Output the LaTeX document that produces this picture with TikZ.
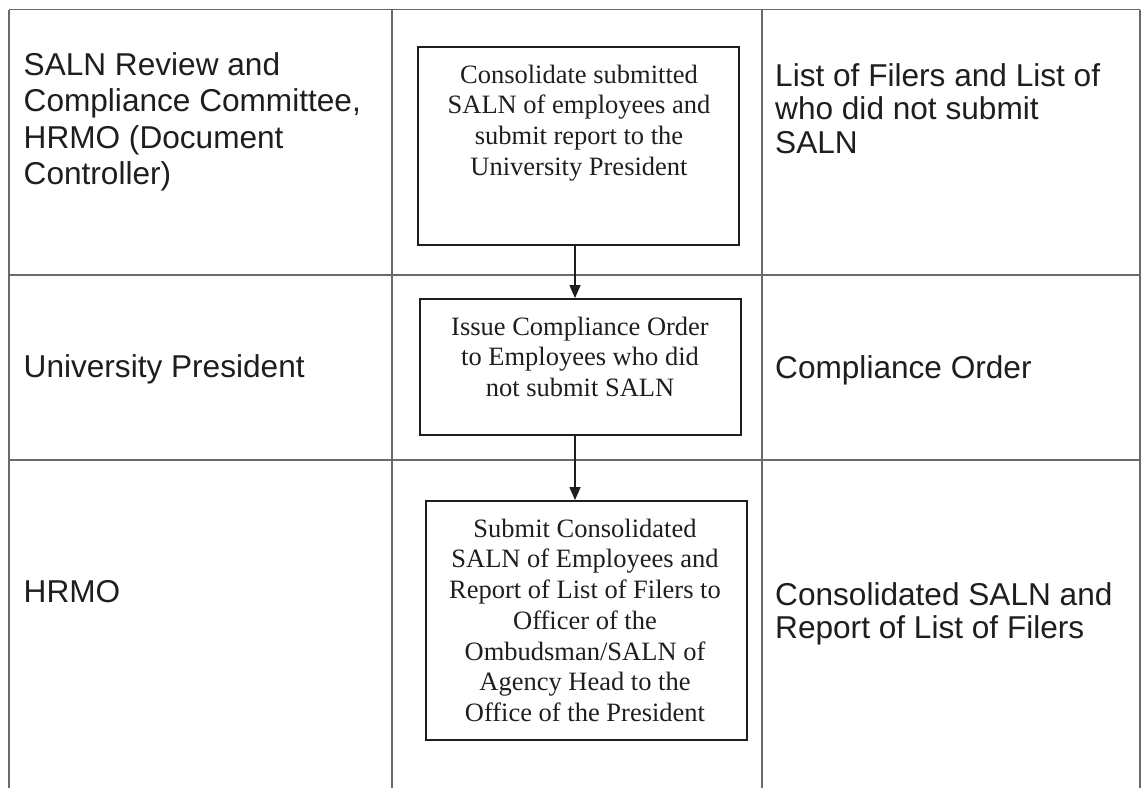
\documentclass[tikz,border=0pt]{standalone}
\usepackage{fontspec}
\setmainfont{Liberation Serif}
\setsansfont{Liberation Sans}
\usetikzlibrary{arrows.meta}
\definecolor{ink}{HTML}{1E1E1E}
\definecolor{gridgray}{HTML}{6A6A6A}
\begin{document}
\begin{tikzpicture}[x=1pt,y=-1pt,
  gridline/.style={draw=gridgray, line width=1.1pt},
  stepbox/.style={draw=ink, line width=1.9pt, minimum width=321pt, inner sep=0pt},
  boxtext/.style={font=\fontsize{26.5}{30.7}\selectfont, text=ink, align=center, inner sep=0pt, anchor=north},
  lane/.style={font=\sffamily\fontsize{31.6}{36.5}\selectfont, text=ink, align=left, inner sep=0pt, anchor=north west},
  output/.style={font=\sffamily\fontsize{31.6}{33.5}\selectfont, text=ink, align=left, inner sep=0pt, anchor=north west},
  flow/.style={draw=ink, line width=1.4pt, -{Triangle[width=11pt,length=13pt]}}]
\useasboundingbox (0,0) rectangle (1147,788);

% table grid: three columns, three rows
\draw[gridline] (9,9.5) -- (1140,9.5);
\draw[gridline] (9,275) -- (1140,275);
\draw[gridline] (9,460) -- (1140,460);
\draw[gridline] (9,9.5) -- (9,788);
\draw[gridline] (392,9.5) -- (392,788);
\draw[gridline] (762,9.5) -- (762,788);
\draw[gridline] (1140,9.5) -- (1140,788);

% responsible units
\node[lane] (r1) at (23.5,50) {\rule{0pt}{25pt}SALN Review and\\Compliance Committee,\\HRMO (Document\\Controller)};
\node[lane] (r2) at (23.5,352) {\rule{0pt}{25pt}University President};
\node[lane] (r3) at (23.5,577) {\rule{0pt}{25pt}HRMO};

% process steps
\node[stepbox, minimum height=198pt] (b1) at (578.5,146) {};
\node[stepbox, minimum height=136pt] (b2) at (580.5,367) {};
\node[stepbox, minimum height=239pt] (b3) at (586.5,620.5) {};

\node[boxtext] (t1) at (579,61) {\rule{0pt}{22pt}Consolidate submitted\\SALN of employees and\\submit report to the\\University President};
\node[boxtext] (t2) at (580,313) {\rule{0pt}{22pt}Issue Compliance Order\\to Employees who did\\not submit SALN};
\node[boxtext] (t3) at (585,515) {\rule{0pt}{22pt}Submit Consolidated\\SALN of Employees and\\Report of List of Filers to\\Officer of the\\Ombudsman/SALN of\\Agency Head to the\\Office of the President};

% outputs
\node[output] (o1) at (775,61) {\rule{0pt}{25pt}List of Filers and List of\\who did not submit\\SALN};
\node[output] (o2) at (775,353) {\rule{0pt}{25pt}Compliance Order};
\node[output] (o3) at (775,580) {\rule{0pt}{25pt}Consolidated SALN and\\Report of List of Filers};

% flow between steps
\coordinate (ax) at (575,0);
\draw[flow] (b1.south -| ax) -- (b2.north -| ax);
\draw[flow] (b2.south -| ax) -- (b3.north -| ax);
\end{tikzpicture}
\end{document}
